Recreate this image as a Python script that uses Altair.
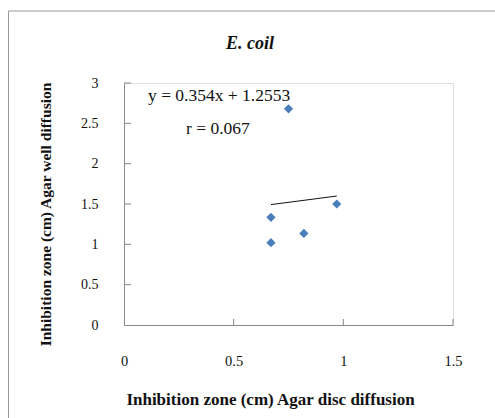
import altair as alt
import pandas as pd

# data
disc = [0.67, 0.67, 0.75, 0.82, 0.97]
well = [1.335, 1.02, 2.68, 1.135, 1.50]
slope = 0.354
intercept = 1.2553
x_ticks = [0.5, 1.0, 1.5]
y_ticks = [0.5, 1.0, 1.5, 2.0, 2.5, 3.0]

W, H = 329, 242
FONT = "Liberation Serif"

pts = pd.DataFrame({"disc": disc, "well": well})
xmin, xmax = min(disc), max(disc)
trend = pd.DataFrame({"disc": [xmin, xmax],
                      "well": [slope * xmin + intercept, slope * xmax + intercept]})

xs = alt.Scale(domain=[0, 1.5], nice=False)
ys = alt.Scale(domain=[0, 3], nice=False)

base = alt.Chart(pts).mark_point(
    shape="diamond", filled=True, size=85, color="#4A7EBB", opacity=1
).encode(
    x=alt.X("disc:Q", scale=xs, axis=alt.Axis(
        title="Inhibition zone (cm) Agar disc diffusion", values=[0, 0.5, 1, 1.5],
        format="~g",
        ticks=False, grid=False, domainColor="#888888", labelPadding=29,
        labelFont=FONT, labelFontSize=14.5, labelColor="#111111", labelFlush=False,
        titleFont=FONT, titleFontSize=17, titleFontWeight="bold", titleColor="#111111",
        titleX=146, titleY=66, titleBaseline="top")),
    y=alt.Y("well:Q", scale=ys, axis=alt.Axis(
        title="Inhibition zone (cm) Agar well diffusion", values=[0, 0.5, 1, 1.5, 2, 2.5, 3],
        format="~g",
        ticks=False, grid=False, domainColor="#888888", labelPadding=26,
        labelFont=FONT, labelFontSize=14, labelColor="#111111", labelFlush=False,
        titleFont=FONT, titleFontSize=15.5, titleFontWeight="bold", titleColor="#111111",
        titleX=-71, titleY=131, titleBaseline="bottom", titleAngle=270)),
)

line = alt.Chart(trend).mark_line(color="#111111", strokeWidth=1).encode(
    x=alt.X("disc:Q", scale=xs), y=alt.Y("well:Q", scale=ys))

xt = alt.Chart(pd.DataFrame({"v": x_ticks})).mark_rule(color="#888888").encode(
    x=alt.X("v:Q", scale=xs), y=alt.value(H), y2=alt.value(H - 6))
yt = alt.Chart(pd.DataFrame({"v": y_ticks})).mark_rule(color="#888888").encode(
    y=alt.Y("v:Q", scale=ys), x=alt.value(0), x2=alt.value(7))

ann = alt.Chart(pd.DataFrame({"t": ["y = 0.354x + 1.2553", "r = 0.067"],
                              "px": [24, 62], "py": [13, 46]})).mark_text(
    font=FONT, fontSize=17.5, color="#111111", align="left", baseline="middle"
).encode(text="t:N", x=alt.X("px:Q", scale=None), y=alt.Y("py:Q", scale=None))

title = alt.Chart(pd.DataFrame({"t": ["E. coil"]})).mark_text(
    font=FONT, fontSize=18, fontStyle="italic", fontWeight="bold", color="#111111",
    align="center", baseline="middle"
).encode(text="t:N", x=alt.value(126), y=alt.value(-39))

border_l = alt.Chart(pd.DataFrame({"a": [0]})).mark_rule(color="#999999").encode(
    x=alt.value(-115.5), x2=alt.value(-115.5), y=alt.value(-72), y2=alt.value(340))
border_t = alt.Chart(pd.DataFrame({"a": [0]})).mark_rule(color="#999999").encode(
    x=alt.value(-115.5), x2=alt.value(380), y=alt.value(-72), y2=alt.value(-72))

chart = alt.layer(border_l, border_t, xt, yt, line, base, ann, title).properties(
    width=W, height=H,
    autosize=alt.AutoSizeParams(type="none"),
    padding={"left": 124, "top": 83, "right": 42, "bottom": 93},
).configure_view(stroke=None).configure(background="white")

chart.save("out.html", embed_options={"renderer": "svg", "actions": False})
